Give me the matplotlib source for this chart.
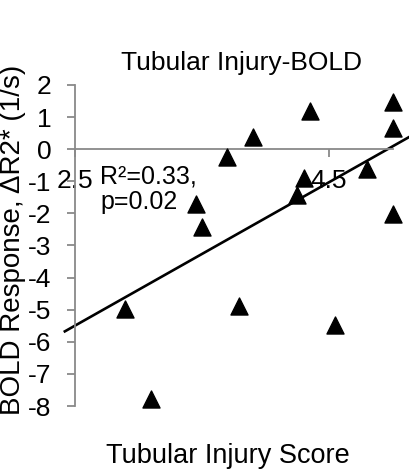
import numpy as np
import matplotlib
matplotlib.use("Agg")
import matplotlib.pyplot as plt

plt.rcParams['font.family'] = ['Liberation Sans', 'DejaVu Sans']
plt.rcParams['axes.unicode_minus'] = False

# tubular injury score vs BOLD response
injury_score = [5.0, 5.0, 4.35, 3.90, 3.70, 4.30, 4.25, 4.80, 5.0,
                3.45, 3.50, 2.89, 3.79, 4.55, 3.10]
bold_response = [1.48, 0.67, 1.19, 0.39, -0.23, -0.90, -1.42, -0.61, -2.02,
                 -1.71, -2.41, -4.97, -4.88, -5.47, -7.78]

x_ticks = [2.5, 4.5]
y_ticks = list(range(-8, 3))
axis_grey = '#898989'

fig = plt.figure(figsize=(4.09, 4.73), dpi=100)
ax = fig.add_axes([75 / 409, 1 - 406 / 473, (392.5 - 75) / 409, (406 - 85) / 473])

ax.scatter(injury_score, bold_response, marker='^', s=17 ** 2 * 0.52,
           color='black', clip_on=False, zorder=3)

# linear trendline, drawn a little past the axis like the spreadsheet one
slope, intercept = np.polyfit(injury_score, bold_response, 1)
xs = np.array([2.42, 5.2])
ax.plot(xs, slope * xs + intercept, color='black', lw=1.9, clip_on=False, zorder=2)

ax.set_xlim(2.5, 5.0)
ax.set_ylim(-8, 2)
ax.set_xticks(x_ticks)
ax.set_xticklabels(['2.5', '4.5'])
ax.set_yticks(y_ticks)

for s in ['top', 'right']:
    ax.spines[s].set_visible(False)
ax.spines['bottom'].set_position(('data', 0))
for s in ['bottom', 'left']:
    ax.spines[s].set_color(axis_grey)
    ax.spines[s].set_linewidth(1.3)

ax.tick_params(axis='both', colors=axis_grey, length=6, width=1.3, labelsize=19,
               labelcolor='black')
ax.tick_params(axis='y', pad=11)
ax.tick_params(axis='x', pad=8)
ax.patch.set_alpha(0)

ax.text(2.70, -1.25, 'R²=0.33,\np=0.02', fontsize=18, ha='left', va='center',
        linespacing=1.1)

fig.text(242 / 409, 1 - 70 / 473, 'Tubular Injury-BOLD', fontsize=19,
         ha='center', va='baseline')
fig.text(228 / 409, 1 - 463 / 473, 'Tubular Injury Score', fontsize=19.5,
         ha='center', va='baseline')
fig.text(13 / 409, 1 - 240 / 473, 'BOLD Response, ΔR2* (1/s)', fontsize=20,
         ha='center', va='center', rotation=90)

fig.savefig('out.png', dpi=100)
